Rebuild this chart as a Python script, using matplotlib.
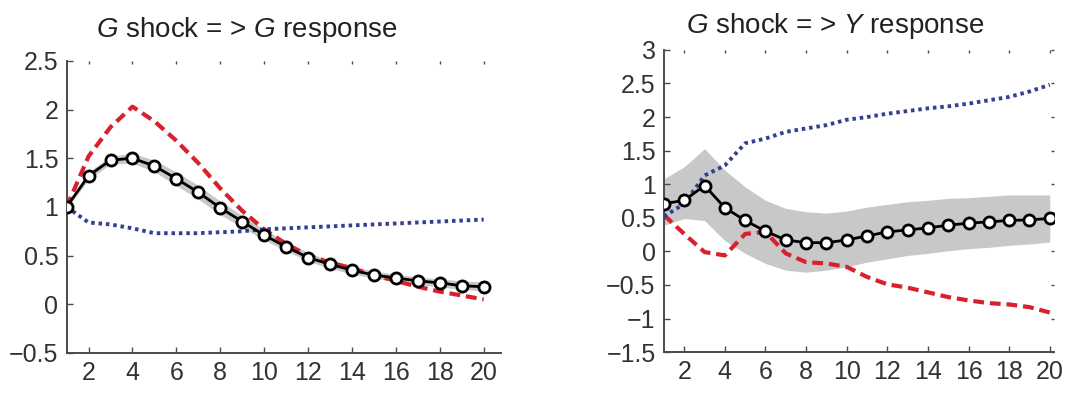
import numpy as np
import matplotlib
matplotlib.use("Agg")
from matplotlib import pyplot as plt

plt.rcParams['font.family'] = ['Liberation Sans', 'DejaVu Sans']
plt.rcParams['mathtext.fontset'] = 'custom'
plt.rcParams['mathtext.it'] = 'Liberation Sans:italic'
plt.rcParams['mathtext.rm'] = 'Liberation Sans'

quarters = np.arange(1, 21)

# G shock => G response
g_black = [1.00, 1.32, 1.48, 1.50, 1.42, 1.29, 1.15, 0.99, 0.85, 0.71,
           0.59, 0.48, 0.41, 0.35, 0.30, 0.27, 0.24, 0.22, 0.19, 0.18]
g_upper = [1.02, 1.36, 1.52, 1.55, 1.48, 1.36, 1.22, 1.06, 0.91, 0.77,
           0.64, 0.53, 0.45, 0.39, 0.34, 0.31, 0.28, 0.26, 0.24, 0.23]
g_lower = [0.98, 1.28, 1.44, 1.45, 1.36, 1.22, 1.08, 0.92, 0.79, 0.66,
           0.55, 0.44, 0.37, 0.31, 0.27, 0.23, 0.20, 0.18, 0.15, 0.14]
g_red = [1.00, 1.52, 1.82, 2.03, 1.88, 1.68, 1.45, 1.19, 0.96, 0.77,
         0.62, 0.50, 0.43, 0.37, 0.30, 0.24, 0.18, 0.13, 0.09, 0.05]
g_blue = [1.00, 0.84, 0.82, 0.78, 0.73, 0.73, 0.73, 0.74, 0.75, 0.77,
          0.78, 0.79, 0.80, 0.81, 0.82, 0.83, 0.84, 0.85, 0.86, 0.87]

# G shock => Y response
y_black = [0.71, 0.76, 0.98, 0.65, 0.46, 0.30, 0.17, 0.13, 0.13, 0.17,
           0.23, 0.29, 0.32, 0.35, 0.39, 0.42, 0.44, 0.46, 0.47, 0.49]
y_upper = [1.08, 1.26, 1.53, 1.21, 0.96, 0.76, 0.64, 0.59, 0.57, 0.60,
           0.66, 0.70, 0.74, 0.76, 0.79, 0.80, 0.82, 0.84, 0.84, 0.84]
y_lower = [0.39, 0.49, 0.46, 0.16, -0.03, -0.18, -0.28, -0.31, -0.28, -0.23,
           -0.16, -0.11, -0.06, -0.03, 0.01, 0.04, 0.06, 0.09, 0.11, 0.14]
y_red = [0.54, 0.26, -0.01, -0.06, 0.26, 0.29, -0.03, -0.16, -0.18, -0.23,
         -0.38, -0.49, -0.54, -0.61, -0.68, -0.73, -0.77, -0.79, -0.83, -0.91]
y_blue = [0.52, 0.71, 1.13, 1.28, 1.61, 1.68, 1.78, 1.83, 1.88, 1.96,
          2.00, 2.05, 2.09, 2.13, 2.16, 2.20, 2.25, 2.30, 2.38, 2.48]

RED = '#d9202c'
BLUE = '#343f93'
BAND = '#c8c8c8'
AXC = '#4a4a4a'


def draw(ax, black, upper, lower, red, blue, xmax, ylim, yticks, ylabels, right_ticks):
	ax.fill_between(quarters, lower, upper, color=BAND, lw=0, zorder=1)
	ax.plot(quarters, red, color=RED, lw=3.0, linestyle=(0, (2.6, 1.4)), zorder=2)
	ax.plot(quarters, blue, color=BLUE, lw=2.8, linestyle=(0, (0.9, 1.0)), zorder=3)
	ax.plot(quarters, black, color='black', lw=2.0, marker='o', markersize=8,
	        markerfacecolor='white', markeredgecolor='black', markeredgewidth=2.0, zorder=4)
	ax.set_xlim(1, xmax)
	ax.set_ylim(*ylim)
	ax.set_xticks(np.arange(2, 21, 2))
	ax.set_yticks(yticks)
	ax.set_yticklabels(ylabels)
	for s in ['top', 'right']:
		ax.spines[s].set_visible(False)
	for s in ['left', 'bottom']:
		ax.spines[s].set_color(AXC)
		ax.spines[s].set_linewidth(1.4)
	ax.tick_params(direction='in', length=4, width=1, color=AXC,
	               labelsize=18, labelcolor='#333333', pad=6)
	# faint marks left over on the hidden top / right box edges
	ax.tick_params(which='both', top=True, right=right_ticks)
	ax.tick_params(axis='x', which='major', top=True)
	for t in ax.xaxis.get_major_ticks():
		t.tick2line.set_color('#9a9a9a')
		t.tick2line.set_markersize(2)
	for t in ax.yaxis.get_major_ticks():
		t.tick2line.set_color('#b0b0b0')
		t.tick2line.set_markersize(2)


fig = plt.figure(figsize=(10.92, 3.93), dpi=100)
ax1 = fig.add_axes([0.061, 0.102, 0.398, 0.743])
ax2 = fig.add_axes([0.608, 0.104, 0.357, 0.769])

draw(ax1, g_black, g_upper, g_lower, g_red, g_blue, 20.8, (-0.5, 2.5),
     [-0.5, 0, 0.5, 1, 1.5, 2, 2.5], ['\u22120.5', '0', '0.5', '1', '1.5', '2', '2.5'], False)
draw(ax2, y_black, y_upper, y_lower, y_red, y_blue, 20.2, (-1.5, 3),
     [-1.5, -1, -0.5, 0, 0.5, 1, 1.5, 2, 2.5, 3],
     ['\u22121.5', '\u22121', '\u22120.5', '0', '0.5', '1', '1.5', '2', '2.5', '3'], True)

fig.text(247 / 1092, 0.924, '$G$ shock = > $G$ response', ha='center', va='center',
         fontsize=20, color='#222222')
fig.text(835 / 1092, 0.934, '$G$ shock = > $Y$ response', ha='center', va='center',
         fontsize=20, color='#222222')

plt.savefig('out.png', dpi=100)
